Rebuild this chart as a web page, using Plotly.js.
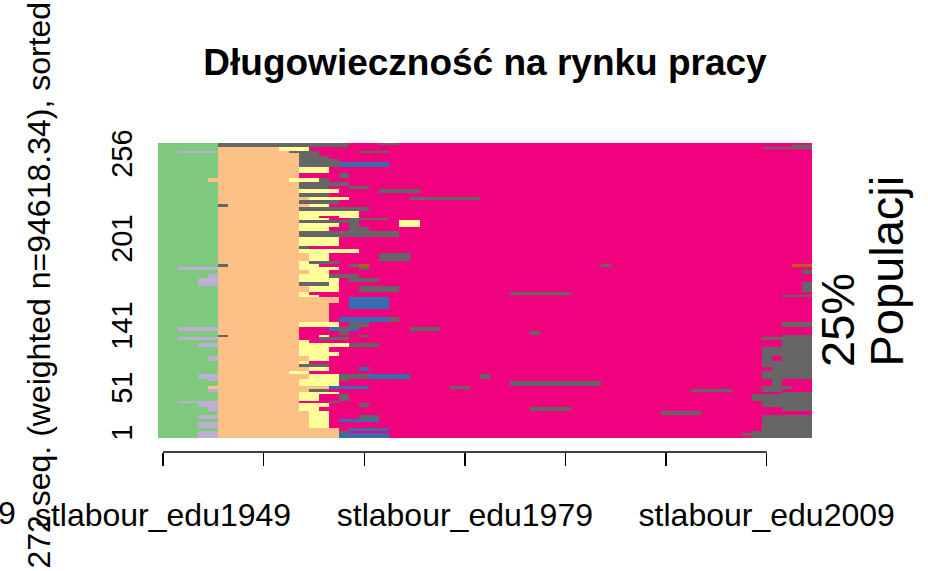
<!DOCTYPE html>
<html>
<head>
<meta charset="utf-8">
<script src="https://cdn.plot.ly/plotly-3.0.1.min.js"></script>
<style>body{margin:0;background:#fff}</style>
</head>
<body>
<div id="Seq_Graph" style="width:928px;height:571px"></div>
<script>
// stany (paleta Accent) - kod litery, kolor
var states = ["G", "L", "P", "Y", "B", "M", "R", "K"];
var stateColors = ["#7FC97F", "#BEAED4", "#FDC086", "#FFFF99", "#386CB0", "#F0027F", "#BF5B17", "#666666"];

var firstYear = 1949;
var lastYear = 2013;

// sekwencje od gory do dolu: litera stanu + indeks roku (0 = 1949) od ktorego obowiazuje
var sequences = [
  "G0 K6 M19 K22 M24",
  "G0 K6 M19 K63",
  "G0 P6 Y12 M15 K60",
  "G0 P6 Y12 M15",
  "G0 L2 P6 K13 M16 K20 M23",
  "G0 P6 K14 M16",
  "G0 P6 K14 M17",
  "G0 P6 K14 M18",
  "G0 P6 K14 B18 M23",
  "G0 P6 Y14 M17",
  "G0 P6 M14 K18 M19",
  "G0 P5 Y13 K16 M17",
  "G0 P6 K14 M19",
  "G0 P6 K14 M17 K19 M21",
  "G0 P6 Y14 M18 K22 M26",
  "G0 P6 K14 M17",
  "G0 P6 Y15 M19 K25 M32",
  "G0 P6 K14 M18",
  "G0 K6 P7 Y15 M17",
  "G0 P6 K14 M21",
  "G0 P6 Y14 M20",
  "G0 P6 Y14 M16 Y18 M20",
  "G0 P6 Y14 M17 K19 M23",
  "G0 P6 K14 M20 Y24 M26",
  "G0 P6 Y14 M18 K19 M20 Y24 M26",
  "G0 P6 Y14 M17 K19 M21",
  "G0 P6 K14 M24",
  "G0 P6 Y14 M18",
  "G0 P6 K14 M15",
  "G0 P6 Y14 M20",
  "G0 P6 Y15 M17 K22 M25",
  "G0 P6 Y14 K15 M18",
  "G0 K6 P7 Y14 M16 K19 R20 M21 K44 M45 R63",
  "G0 L2 P6 Y14 M18 K20 M21",
  "G0 P6 Y15 M17 K64",
  "G0 L5 P6 Y14 K17 M20",
  "G0 L4 P6 Y14 M18 K19 M22",
  "G0 L4 P6 K14 Y17 M18 K64",
  "G0 P6 Y15 M18 K20 M24 K64",
  "G0 P6 Y14 M15 K35 M41",
  "G0 P6 Y14 M16 K62",
  "G0 P6 M18 B19 M23",
  "G0 P6 M17 B19 M23",
  "G0 P6 M17",
  "G0 P6 M17 B18 K23 M24",
  "G0 P6 Y14 M18 K19 M21 K62",
  "G0 L2 P6 M14 B17 K18 B19 M20 K25 M28",
  "G0 P6 M14 K18 M19 K37 M38",
  "G0 K6 P7 M14 Y16 M17 K20 M21 K62",
  "G0 L2 P6 M14 K16 M19 K60",
  "G0 P6 Y14 M15 K62",
  "G0 L4 P6 Y14 K19 M22 K62",
  "G0 P6 Y14 M17 K60",
  "G0 P6 Y14 M18 K60",
  "G0 L5 P6 Y15 M17 K60 M61 K62",
  "G0 P6 Y14 M15 K60",
  "G0 P6 K14 M17 K60",
  "G0 P6 Y15 M17 B20 M21 K61",
  "G0 P6 Y13 M15 K60",
  "G0 L4 P6 Y15 K18 B21 M25 K32 M33 K60",
  "G0 L5 P6 Y14 K18 M19 K61 M62",
  "G0 P6 Y14 M18 K35 M44 K61 M62",
  "G0 P5 B17 M21 K29 M31 K60 M63",
  "G0 L5 P6 K15 M17 K53 M57 K60 M62",
  "G0 P6 Y14 M18 K62",
  "G0 P6 Y14 M16 K18 M19 K59",
  "G0 L2 P6 M14 K17 M18 K60",
  "G0 L4 P6 Y14 M17 K20 M21 K60",
  "G0 L5 P6 Y14 M16 K37 M41 K62",
  "G0 P6 Y15 M17 K50 M54",
  "G0 L4 P6 Y15 M17 K20 M22 K60",
  "G0 P6 Y15 M17 B18 M22 K60",
  "G0 L4 P6 Y15 M17 K60",
  "G0 P6 M18 B19 M23 K60",
  "G0 L4 P6 K18 M19 K59",
  "G0 L4 P6 B18 M23 K58",
  "G0 L4 P6 B18 M23 K59"
];
// wagi sekwencji (wzgledne), w tej samej kolejnosci
var weights = [2, 2, 2, 2, 2, 3, 3, 3, 5, 6, 5, 4, 4, 3, 4, 4, 3, 4, 3, 4, 5,
  2, 2, 3, 4, 4, 6, 9, 3, 4, 8, 3, 3, 3, 4, 4, 4, 4, 6, 3, 2,
  6, 6, 8, 5, 5, 4, 4, 2, 3, 3, 4, 5, 4, 5, 3, 3, 4, 3, 5, 2, 5, 3, 3, 2, 7, 2,
  4, 4, 4, 4, 3, 6, 3, 2, 3, 2];

var yTickLabels = ["1", "51", "141", "201", "256"];
var yTickPos = [1, 46, 108, 195, 280];
var xTickYears = [1949, 1959, 1969, 1979, 1989, 1999, 2009];
var xTickText = ["stlabour_edu1949", "", "", "stlabour_edu1979", "", "", "stlabour_edu2009"];

var FONT = "Liberation Sans, Arial, sans-serif";
var nYears = lastYear - firstYear + 1;

// budowa macierzy (od dolu do gory)
var z = [];
var yEdges = [0];
var total = 0;
for (var i = sequences.length - 1; i >= 0; i--) {
  var row = [];
  var toks = sequences[i].split(" ");
  for (var t = 0; t < toks.length; t++) {
    var s = states.indexOf(toks[t][0]);
    var from = parseInt(toks[t].slice(1), 10);
    var to = t + 1 < toks.length ? parseInt(toks[t + 1].slice(1), 10) : nYears;
    for (var k = from; k < to; k++) row[k] = s;
  }
  z.push(row);
  total += weights[i];
  yEdges.push(total);
}
var xEdges = [];
for (var k = 0; k <= nYears; k++) xEdges.push(firstYear - 0.5 + k);

var cs = [];
for (var s = 0; s < states.length; s++) {
  cs.push([s / states.length, stateColors[s]]);
  cs.push([(s + 1) / states.length, stateColors[s]]);
}

var trace = {
  type: "heatmap",
  x: xEdges,
  y: yEdges,
  z: z,
  zmin: -0.5,
  zmax: states.length - 0.5,
  colorscale: cs,
  showscale: false,
  zsmooth: false,
  hoverinfo: "skip"
};

var layout = {
  width: 928,
  height: 571,
  margin: {l: 158, r: 116, t: 143, b: 119, pad: 0},
  paper_bgcolor: "#fff",
  plot_bgcolor: "#fff",
  font: {family: FONT, color: "#000"},
  showlegend: false,
  title: {
    text: "Długowieczność na rynku pracy",
    font: {family: FONT, size: 37, weight: "bold", color: "#000"},
    x: 0.5, xref: "paper", xanchor: "center",
    y: 1 - 62 / 571, yref: "container", yanchor: "middle"
  },
  xaxis: {
    range: [firstYear - 0.5, lastYear + 0.5],
    anchor: "free", position: 0,
    tickmode: "array", tickvals: xTickYears, ticktext: xTickText,
    ticks: "outside", ticklen: 13, tickwidth: 1.5, tickcolor: "#000",
    ticklabelstandoff: 22,
    tickfont: {family: FONT, size: 32, color: "#000"},
    showline: false, showgrid: false, zeroline: false, fixedrange: true
  },
  yaxis: {
    domain: [14 / 309, 1],
    range: [0, total],
    tickmode: "array", tickvals: yTickPos, ticktext: yTickLabels,
    ticks: "", tickangle: -90, ticklabelstandoff: 19,
    tickfont: {family: FONT, size: 29, color: "#000"},
    showline: false, showgrid: false, zeroline: false, fixedrange: true
  },
  shapes: [{
    type: "line", xref: "x", yref: "paper",
    x0: xTickYears[0], x1: xTickYears[xTickYears.length - 1], y0: 0, y1: 0,
    line: {color: "#000", width: 1.5}
  }],
  annotations: [
    {text: "272 seq. (weighted n=94618.34), sorted", xref: "x domain", x: 0, xshift: -120,
     yref: "y domain", y: 0.5, yshift: 5, textangle: -90, showarrow: false,
     xanchor: "center", yanchor: "middle", font: {family: FONT, size: 32, color: "#000"}},
    {text: "25%", xref: "x domain", x: 1, xshift: 25, yref: "y domain", y: 73 / 295, yshift: -4,
     textangle: -90, showarrow: false, xanchor: "center", yanchor: "bottom",
     font: {family: FONT, size: 47, color: "#000"}},
    {text: "Populacji", xref: "x domain", x: 1, xshift: 74, yref: "y domain", y: 73 / 295, yshift: -4,
     textangle: -90, showarrow: false, xanchor: "center", yanchor: "bottom",
     font: {family: FONT, size: 47, color: "#000"}},
    {text: "9", xref: "paper", x: 0, xshift: -141, yref: "paper", y: 0, yshift: -61,
     showarrow: false, xanchor: "right", yanchor: "middle", borderpad: 0,
     font: {family: FONT, size: 32, color: "#000"}}
  ]
};

Plotly.newPlot("Seq_Graph", [trace], layout, {displayModeBar: false, staticPlot: true});
</script>
</body>
</html>
